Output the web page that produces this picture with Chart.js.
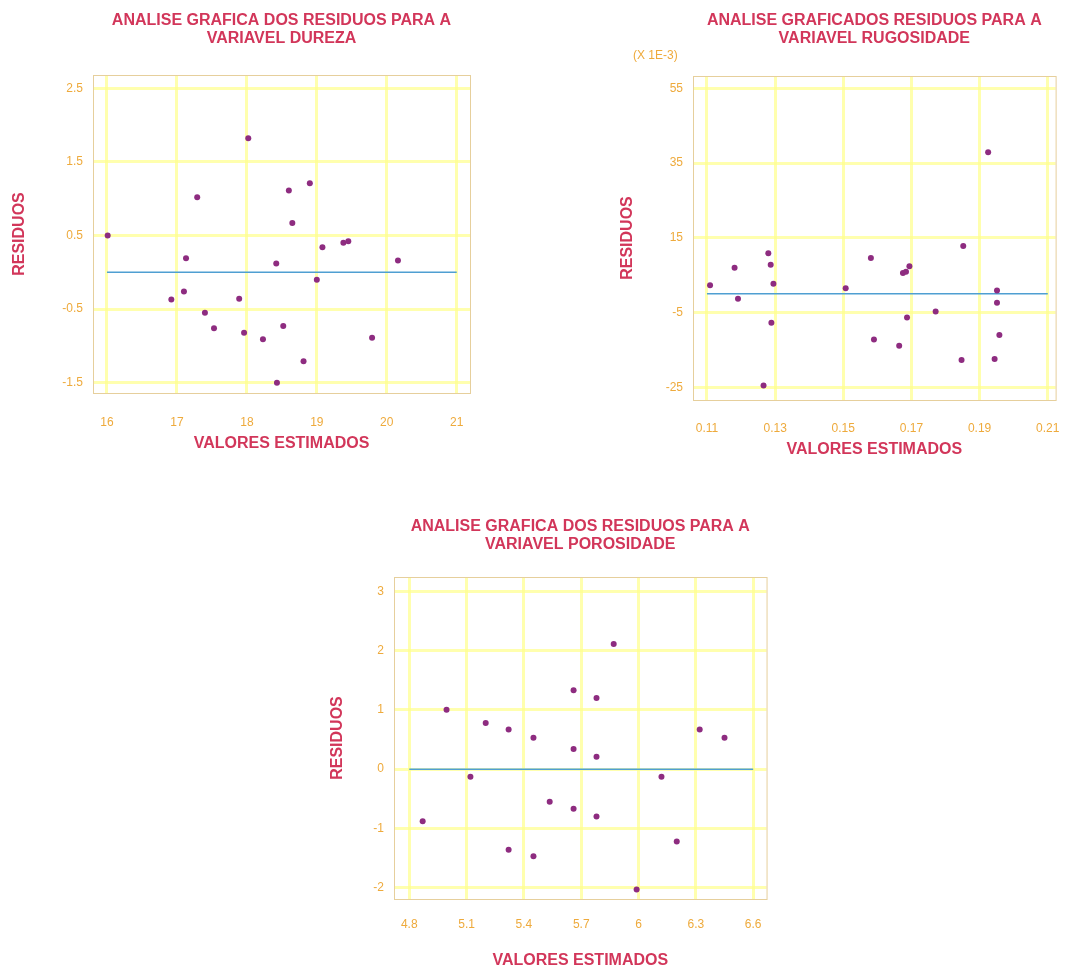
<!DOCTYPE html>
<html>
<head>
<meta charset="utf-8">
<script src="https://cdn.jsdelivr.net/npm/chart.js@4.4.1/dist/chart.umd.min.js"></script>
<style>
  body { margin: 0; background: #fff; }
  #wrap { position: relative; width: 1081px; height: 971px; }
  canvas { position: absolute; }
</style>
</head>
<body>
<div id="wrap">
  <canvas id="dureza" width="540" height="470" style="left:0;top:0"></canvas>
  <canvas id="rugosidade" width="541" height="470" style="left:540px;top:0"></canvas>
  <canvas id="porosidade" width="480" height="501" style="left:300px;top:470px"></canvas>
</div>
<script>
// residuos x valores estimados - dureza
const durezaX = [16.01, 18.02, 17.29, 17.13, 16.92, 17.10, 17.40, 17.53, 17.89, 17.96, 18.23, 18.42,
                 18.43, 18.52, 18.60, 18.65, 18.81, 18.90, 19.00, 19.08, 19.38, 19.45, 19.79, 20.16];
const durezaY = [0.50, 1.82, 1.02, 0.19, -0.37, -0.26, -0.55, -0.76, -0.36, -0.82, -0.91, 0.12,
                 -1.50, -0.73, 1.11, 0.67, -1.21, 1.21, -0.10, 0.34, 0.40, 0.42, -0.89, 0.16];
const durezaXTicks = [16, 17, 18, 19, 20, 21];
const durezaYTicks = [2.5, 1.5, 0.5, -0.5, -1.5];

// rugosidade (residuos em X 1E-3)
const rugosX = [0.1109, 0.1181, 0.1191, 0.1266, 0.1280, 0.1287, 0.1295, 0.1289, 0.1507, 0.1581, 0.1590, 0.1664,
                0.1675, 0.1684, 0.1694, 0.1687, 0.1771, 0.1852, 0.1847, 0.1925, 0.1951, 0.1951, 0.1958, 0.1944];
const rugosY = [2.3, 7.0, -1.3, -24.5, 10.9, 7.8, 2.7, -7.7, 1.5, 9.6, -12.2, -13.9,
                5.6, 5.9, 7.4, -6.3, -4.7, 12.8, -17.7, 37.9, 0.9, -2.4, -11.0, -17.4];
const rugosXTicks = [0.11, 0.13, 0.15, 0.17, 0.19, 0.21];
const rugosYTicks = [55, 35, 15, -5, -25];

// porosidade
const porosX = [4.87, 4.995, 5.12, 5.20, 5.32, 5.32, 5.45, 5.45, 5.535, 5.66, 5.66,
                5.66, 5.78, 5.78, 5.78, 5.87, 5.99, 6.12, 6.20, 6.32, 6.45];
const porosY = [-0.88, 1.00, -0.13, 0.78, 0.67, -1.36, 0.53, -1.47, -0.55, 1.33, 0.34,
                -0.67, 1.20, 0.21, -0.80, 2.11, -2.03, -0.13, -1.22, 0.67, 0.53];
const porosXTicks = [4.8, 5.1, 5.4, 5.7, 6, 6.3, 6.6];
const porosYTicks = [3, 2, 1, 0, -1, -2];

const RED = '#d2365a';
const ORANGE = '#eeaa3c';
const GRID = 'rgba(255, 255, 140, 0.7)';
const FONT = 'Liberation Sans, Arial, sans-serif';

// moldura em volta da area do grafico
const framePlugin = {
  id: 'frame',
  beforeDatasetsDraw(chart) {
    const { ctx, chartArea: a } = chart;
    ctx.save();
    ctx.strokeStyle = '#e6cf9c';
    ctx.lineWidth = 1;
    ctx.strokeRect(a.left + 0.5, a.top + 0.5, a.width, a.height);
    ctx.restore();
  }
};

function makeChart(id, cfg) {
  const pts = cfg.xs.map((x, i) => ({ x: x, y: cfg.ys[i] }));
  const xT = cfg.xTicks, yT = cfg.yTicks;
  const plugins = {
    legend: { display: false },
    tooltip: { enabled: false },
    title: {
      display: true,
      text: cfg.title,
      color: RED,
      fullSize: false,
      font: { family: FONT, weight: 'bold', size: 16, lineHeight: 1.1 },
      padding: cfg.titlePad
    }
  };
  if (cfg.subtitle) {
    plugins.subtitle = {
      display: true,
      text: cfg.subtitle,
      align: 'start',
      color: ORANGE,
      font: { family: FONT, size: 12, lineHeight: 1.2 },
      padding: cfg.subPad
    };
  }
  return new Chart(document.getElementById(id), {
    type: 'scatter',
    data: {
      datasets: [
        {
          data: pts,
          pointRadius: 3,
          pointBackgroundColor: '#8e2c80',
          pointBorderWidth: 0
        },
        {
          data: [{ x: xT[0], y: 0 }, { x: xT[xT.length - 1], y: 0 }],
          showLine: true,
          pointRadius: 0,
          borderColor: '#4f9fd2',
          borderWidth: 1.5
        }
      ]
    },
    options: {
      responsive: false,
      animation: false,
      layout: { padding: cfg.layoutPad },
      plugins: plugins,
      scales: {
        x: {
          min: cfg.xRange[0],
          max: cfg.xRange[1],
          afterBuildTicks: (s) => { s.ticks = xT.map(v => ({ value: v })); },
          afterFit: (s) => { s.height = cfg.xHeight; },
          ticks: {
            color: ORANGE,
            font: { family: FONT, size: 12 },
            padding: cfg.xTickPad,
            callback: (v, i) => cfg.xLabels[i]
          },
          grid: { color: GRID, lineWidth: 3, drawTicks: false },
          border: { display: false },
          title: {
            display: true,
            text: 'VALORES ESTIMADOS',
            color: RED,
            font: { family: FONT, weight: 'bold', size: 16, lineHeight: 1.1 },
            padding: 0
          }
        },
        y: {
          min: cfg.yRange[0],
          max: cfg.yRange[1],
          afterBuildTicks: (s) => { s.ticks = yT.map(v => ({ value: v })); },
          afterFit: (s) => { s.width = cfg.yWidth; },
          ticks: {
            color: ORANGE,
            font: { family: FONT, size: 12 },
            padding: 10,
            callback: (v, i) => cfg.yLabels[i]
          },
          grid: { color: GRID, lineWidth: 3, drawTicks: false },
          border: { display: false },
          title: {
            display: true,
            text: 'RESIDUOS',
            color: RED,
            font: { family: FONT, weight: 'bold', size: 16, lineHeight: 1.1 },
            padding: cfg.yTitlePad
          }
        }
      }
    },
    plugins: [framePlugin]
  });
}

makeChart('dureza', {
  xs: durezaX, ys: durezaY,
  xTicks: durezaXTicks, yTicks: durezaYTicks,
  xLabels: ['16', '17', '18', '19', '20', '21'],
  yLabels: ['2.5', '1.5', '0.5', '-0.5', '-1.5'],
  xRange: [15.8, 21.19], yRange: [-1.64, 2.68],
  title: ['ANALISE GRAFICA DOS RESIDUOS PARA A', 'VARIAVEL DUREZA'],
  titlePad: { top: 12, bottom: 27.8 },
  layoutPad: { left: 11, right: 70, top: 0, bottom: 18 },
  yWidth: 82, xHeight: 59, xTickPad: 22,
  yTitlePad: { top: 0, bottom: 0 }
});

makeChart('rugosidade', {
  xs: rugosX, ys: rugosY,
  xTicks: rugosXTicks, yTicks: rugosYTicks,
  xLabels: ['0.11', '0.13', '0.15', '0.17', '0.19', '0.21'],
  yLabels: ['55', '35', '15', '-5', '-25'],
  xRange: [0.1059, 0.2123], yRange: [-28.4, 58.3],
  title: ['ANALISE GRAFICADOS RESIDUOS PARA A', 'VARIAVEL RUGOSIDADE'],
  titlePad: { top: 12, bottom: 0 },
  subtitle: '(X 1E-3)',
  subPad: { top: 1, bottom: 13.4 },
  layoutPad: { left: 93, right: 13, top: 0, bottom: 12 },
  yWidth: 60, xHeight: 58, xTickPad: 21,
  yTitlePad: { top: -14, bottom: 0 }
});

makeChart('porosidade', {
  xs: porosX, ys: porosY,
  xTicks: porosXTicks, yTicks: porosYTicks,
  xLabels: ['4.8', '5.1', '5.4', '5.7', '6', '6.3', '6.6'],
  yLabels: ['3', '2', '1', '0', '-1', '-2'],
  xRange: [4.72, 6.67], yRange: [-2.19, 3.24],
  title: ['ANALISE GRAFICA DOS RESIDUOS PARA A', 'VARIAVEL POROSIDADE'],
  titlePad: { top: 48, bottom: 23.8 },
  layoutPad: { left: 29, right: 7, top: 0, bottom: 2 },
  yWidth: 65, xHeight: 70, xTickPad: 18,
  yTitlePad: { top: 0, bottom: 0 }
});
</script>
</body>
</html>
